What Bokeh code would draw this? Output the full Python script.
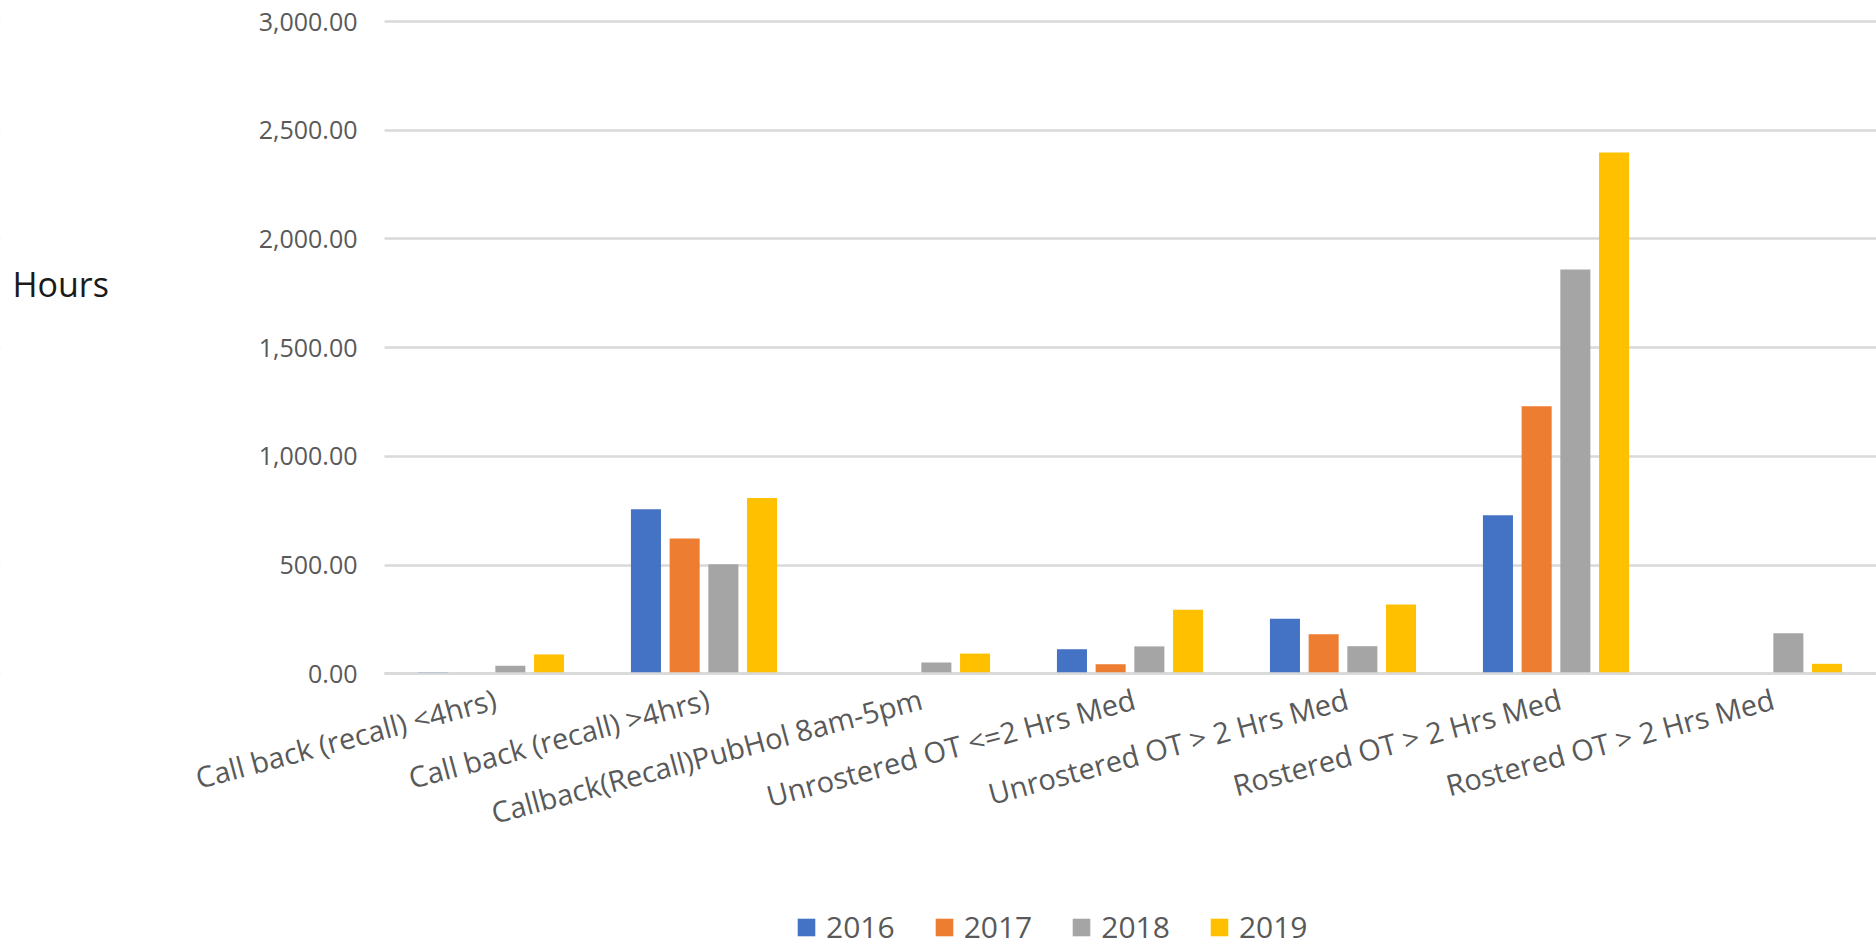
import math
from bokeh.plotting import figure
from bokeh.models import (ColumnDataSource, FixedTicker, NumeralTickFormatter, Legend, LegendItem,
                          Range1d, Label, BoxAnnotation)
from bokeh.embed import file_html
from bokeh.resources import INLINE

categories = ["Call back (recall) <4hrs)", "Call back (recall) >4hrs)", "Callback(Recall)PubHol 8am-5pm",
              "Unrostered OT <=2 Hrs Med", "Unrostered OT > 2 Hrs Med", "Rostered OT > 2 Hrs Med",
              "Rostered OT > 2 Hrs Med"]
years = ["2016", "2017", "2018", "2019"]
y2016 = [7, 757, 0, 113, 253, 729, 0]
y2017 = [4, 622, 0, 44, 182, 1230, 0]
y2018 = [37, 504, 52, 126, 127, 1859, 187]
y2019 = [89, 808, 93, 294, 319, 2397, 46]
y_ticks = [0, 500, 1000, 1500, 2000, 2500, 3000]

colors = ["#4472C4", "#ED7D31", "#A5A5A5", "#FFC000"]
series = [y2016, y2017, y2018, y2019]

FONT = "Open Sans"
TXT = "#595959"

W, H = 1876, 947
plot_left = 384          # screen px of the category axis start
cat_px = 213.0           # px per category
zero_y = 673.3           # screen px of value 0
top_y = 21.0             # screen px of value 3000
ppu = (zero_y - top_y) / 3000.0

xr = Range1d(-plot_left / cat_px, (W - plot_left) / cat_px)
yr = Range1d(-(H - zero_y) / ppu, zero_y / ppu)

p = figure(width=W, height=H, output_backend="svg", toolbar_location=None,
           x_range=xr, y_range=yr,
           min_border_left=0, min_border_right=0, min_border_top=0, min_border_bottom=0)
p.outline_line_color = None
p.background_fill_color = "white"
p.border_fill_color = "white"

step = 0.1817
bw = 0.141
centers = [i + 0.5 for i in range(len(categories))]
renderers = []
for k, (yr_, vals, c) in enumerate(zip(years, series, colors)):
    xs = [cx + (k - 1.5) * step for cx in centers]
    src = ColumnDataSource(dict(x=xs, top=vals))
    r = p.vbar(x="x", top="top", bottom=0, width=bw, source=src, fill_color=c, line_color=None)
    renderers.append(r)

# x axis pinned at value 0
label_pos = [cx + 0.02 for cx in centers]
xa = p.xaxis[0]
xa.fixed_location = 0
xa.bounds = (0, len(categories))
xa.ticker = FixedTicker(ticks=label_pos)
xa.major_label_overrides = {c: lab for c, lab in zip(label_pos, categories)}
xa.major_label_orientation = 15 * math.pi / 180
xa.major_label_text_font = FONT
xa.major_label_text_font_size = "29px"
xa.major_label_text_color = TXT
xa.major_tick_line_color = None
xa.minor_tick_line_color = None
xa.axis_line_color = "#d9d9d9"
xa.axis_line_width = 2.5
xa.major_label_standoff = 18

ya = p.yaxis[0]
ya.fixed_location = 0
ya.bounds = (0, 3000)
ya.ticker = FixedTicker(ticks=y_ticks)
ya.formatter = NumeralTickFormatter(format="0,0.00")
ya.major_label_text_font = FONT
ya.major_label_text_font_size = "25px"
ya.major_label_text_color = TXT
ya.major_tick_line_color = None
ya.minor_tick_line_color = None
ya.axis_line_color = None
ya.major_tick_out = 0
ya.major_label_standoff = 27

p.xgrid.grid_line_color = None
p.ygrid.ticker = FixedTicker(ticks=y_ticks)
p.ygrid.grid_line_color = "#d9d9d9"
p.ygrid.grid_line_width = 2.5

# keep gridlines off the label area left of the category axis
p.add_layout(BoxAnnotation(right=0, fill_color="white", fill_alpha=1, line_color=None, level="underlay"))

p.add_layout(Label(x=12, y=1794, x_units="screen", y_units="data", text="Hours",
                   text_font=FONT, text_font_size="34px", text_color="#1a1a1a",
                   text_baseline="middle", text_align="left"))

legend = Legend(items=[LegendItem(label=y, renderers=[r]) for y, r in zip(years, renderers)],
                orientation="horizontal", location=(795, 0),
                glyph_width=22, glyph_height=22, label_standoff=9, spacing=38,
                padding=0, margin=0, border_line_color=None, background_fill_alpha=0,
                label_text_font=FONT, label_text_font_size="30px", label_text_color=TXT)
p.add_layout(legend, "center")

open("out.html", "w").write(file_html(p, INLINE))
